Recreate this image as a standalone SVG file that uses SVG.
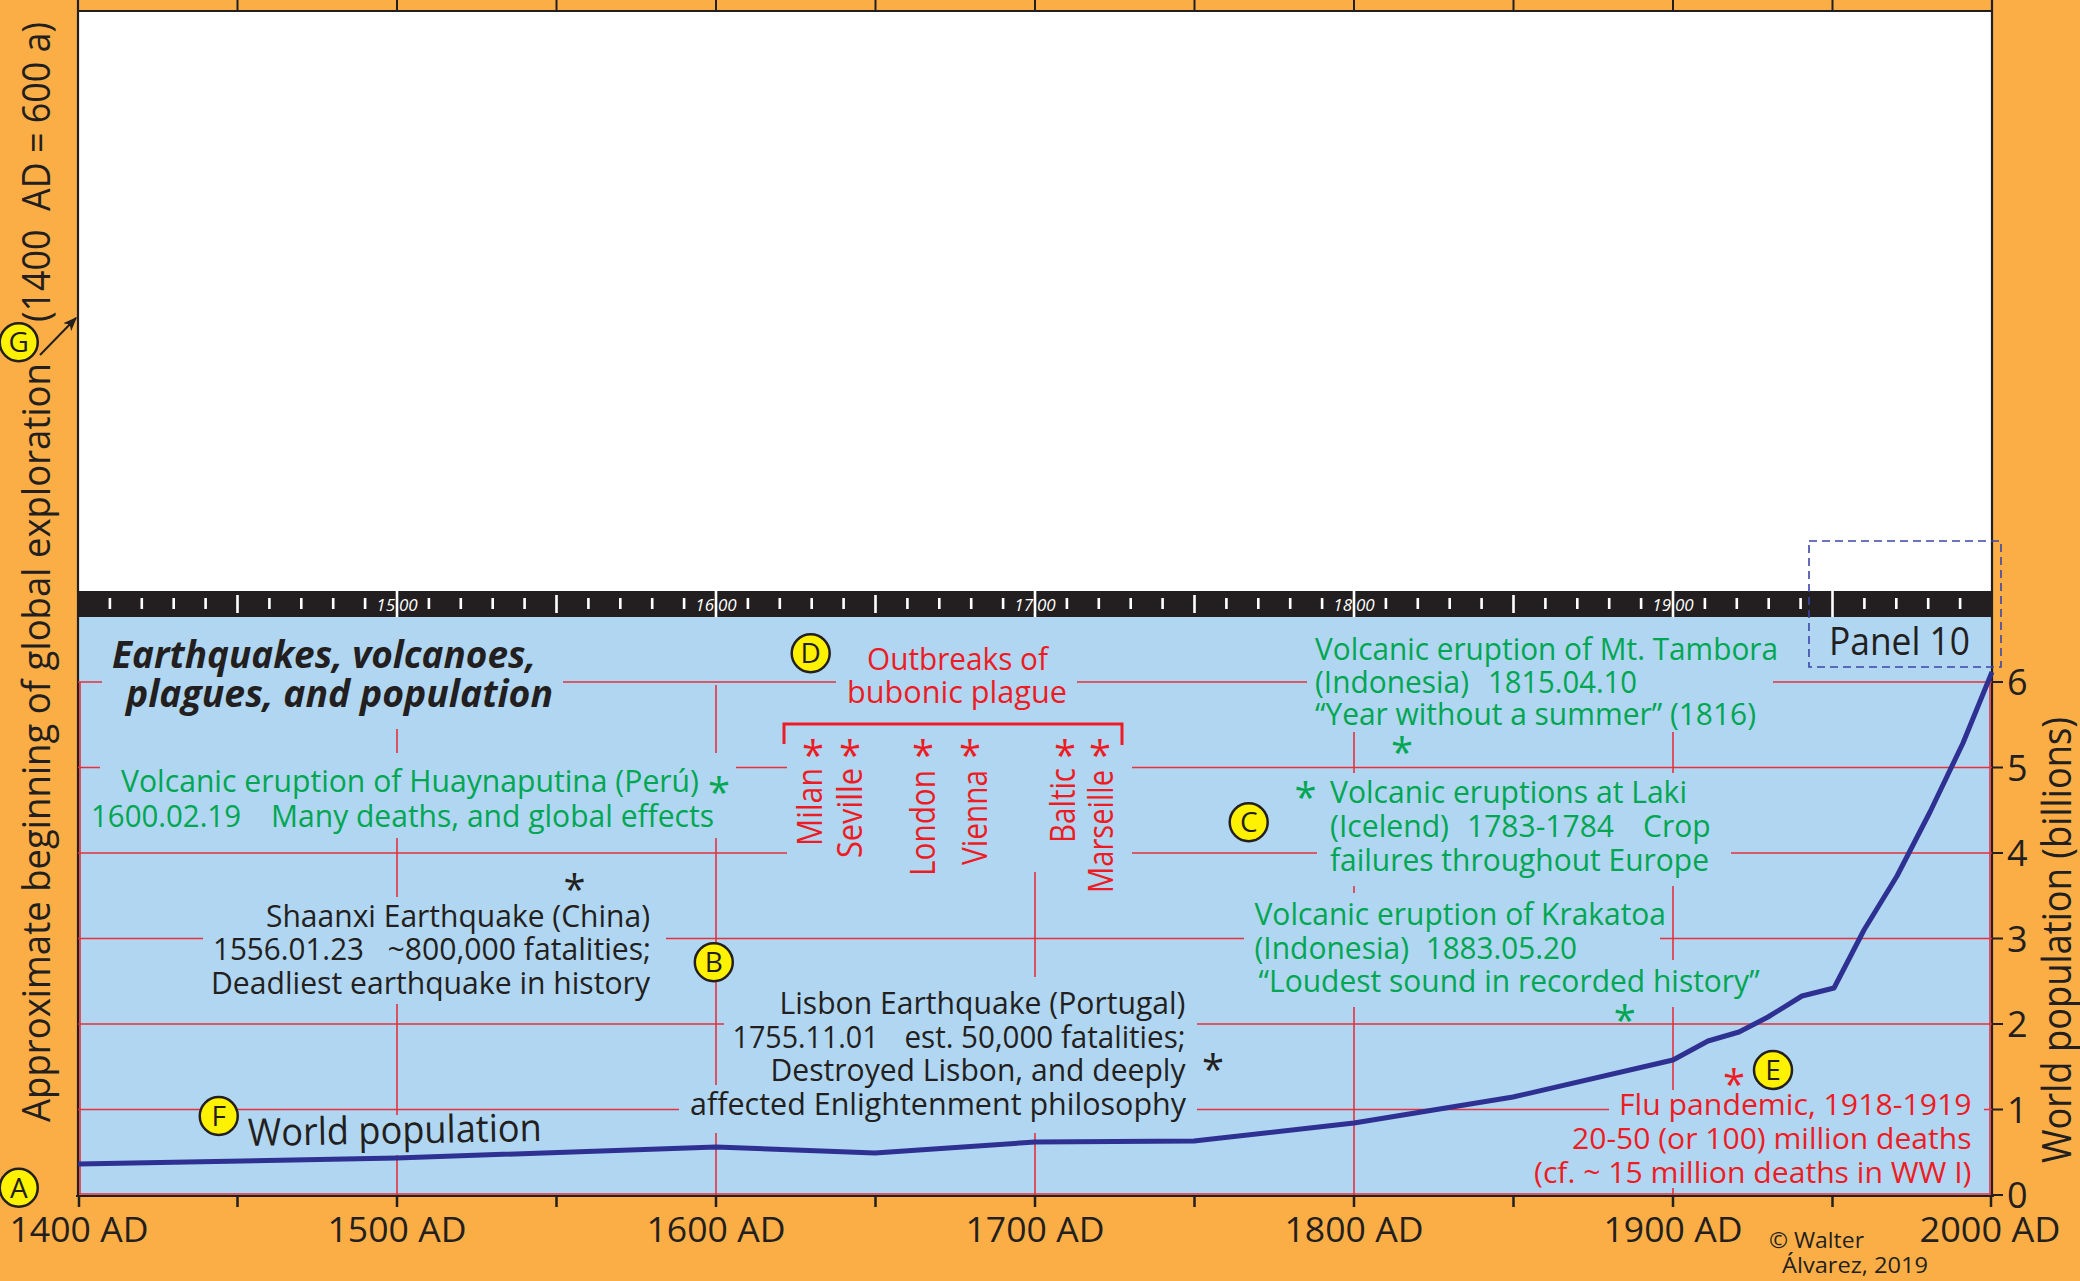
<svg xmlns="http://www.w3.org/2000/svg" width="2080" height="1281" viewBox="0 0 2080 1281">
<style>
text{font-family:"Open Sans","Liberation Sans",sans-serif;}
.k{fill:#231F20}
.g{fill:#00A651}
.r{fill:#ED1C24}
.f30{font-size:31px}
.f29{font-size:30px}
.ast{font-size:40px;text-anchor:middle}
.grid{stroke:#E4323E;stroke-width:1.6;fill:none}
.dk{stroke:#231F20;fill:none}
.circ{fill:#FFF200;stroke:#231F20;stroke-width:2.5}
.cl{font-size:28px;text-anchor:middle;fill:#231F20}
.ax{font-size:35px;text-anchor:middle;fill:#231F20}
.yl{font-size:36px;fill:#231F20}
.tl{font-size:17px;font-style:italic;fill:#FFFFFF}
</style>
<defs>
<marker id="arr" viewBox="0 0 10 10" refX="9" refY="5" markerWidth="14" markerHeight="14" orient="auto" markerUnits="userSpaceOnUse">
<path d="M0,1 L10,5 L0,9 L2.5,5 z" fill="#231F20"/>
</marker>
</defs>

<g id="background">
<rect x="0" y="0" width="2080" height="1281" fill="#FBAE45"/>
<rect x="78" y="11" width="1914" height="580" fill="#FFFFFF"/>
<rect x="78" y="617" width="1914" height="578" fill="#B0D6F1"/>
<rect x="78" y="591" width="1914" height="26" fill="#231F20"/>
</g>

<g id="frame">
<path class="dk" stroke-width="2.2" d="M78 11H1992M78 0V1196M1992 0V1196M76 1196H1994"/>
<path class="dk" stroke-width="2" d="M237.5 0v11M397 0v11M556.5 0v11M716 0v11M875.5 0v11M1035 0v11M1194.5 0v11M1354 0v11M1513.5 0v11M1673 0v11M1832.5 0v11"/>
<path class="dk" stroke-width="2.5" d="M79 1196v11M237.5 1196v11M397 1196v11M556.5 1196v11M716 1196v11M875.5 1196v11M1035 1196v11M1194.5 1196v11M1354 1196v11M1513.5 1196v11M1673 1196v11M1832.5 1196v11M1991 1196v11"/>
<path class="dk" stroke-width="2" d="M1992 682h11M1992 767.5h11M1992 853h11M1992 938.5h11M1992 1024h11M1992 1109.5h11M1992 1195h11"/>
<path stroke="#E4323E" stroke-width="1.6" fill="none" d="M80 682V1194M1990 682V1194M79 1194H1991"/>
</g>

<g id="timeline-bar">
<path stroke="#FFFFFF" stroke-width="2.6" fill="none" d="M109.9 598v11M141.8 598v11M173.7 598v11M205.6 598v11M269.4 598v11M301.3 598v11M333.2 598v11M365.1 598v11M428.9 598v11M460.8 598v11M492.7 598v11M524.6 598v11M588.4 598v11M620.3 598v11M652.2 598v11M684.1 598v11M747.9 598v11M779.8 598v11M811.7 598v11M843.6 598v11M907.4 598v11M939.3 598v11M971.2 598v11M1003.1 598v11M1066.9 598v11M1098.8 598v11M1130.7 598v11M1162.6 598v11M1226.4 598v11M1258.3 598v11M1290.2 598v11M1322.1 598v11M1385.9 598v11M1417.8 598v11M1449.7 598v11M1481.6 598v11M1545.4 598v11M1577.3 598v11M1609.2 598v11M1641.1 598v11M1704.9 598v11M1736.8 598v11M1768.7 598v11M1800.6 598v11M1864.4 598v11M1896.3 598v11M1928.2 598v11M1960.1 598v11"/>
<path stroke="#FFFFFF" stroke-width="2.6" fill="none" d="M237.5 595v18M556.5 595v18M875.5 595v18M1194.5 595v18M1513.5 595v18"/>
<path stroke="#FFFFFF" stroke-width="2.6" fill="none" d="M397 591v26M716 591v26M1035 591v26M1354 591v26M1673 591v26M1832.5 591v26"/>
<text class="tl" x="395" y="611" text-anchor="end">15</text><text class="tl" x="399" y="611">00</text>
<text class="tl" x="714" y="611" text-anchor="end">16</text><text class="tl" x="718" y="611">00</text>
<text class="tl" x="1033" y="611" text-anchor="end">17</text><text class="tl" x="1037" y="611">00</text>
<text class="tl" x="1352" y="611" text-anchor="end">18</text><text class="tl" x="1356" y="611">00</text>
<text class="tl" x="1671" y="611" text-anchor="end">19</text><text class="tl" x="1675" y="611">00</text>
</g>

<g id="gridlines">
<path class="grid" d="M78 682H102M563 682H836M1077 682H1307M1773 682H1992"/>
<path class="grid" d="M78 767.5H100M736 767.5H787M1132 767.5H1992"/>
<path class="grid" d="M78 853H787M1132 853H1317M1731 853H1992"/>
<path class="grid" d="M78 938.5H203M666 938.5H1244M1660 938.5H1992"/>
<path class="grid" d="M78 1024H724M1197 1024H1992"/>
<path class="grid" d="M78 1109.5H679M1197 1109.5H1609M1984 1109.5H1992"/>
<path class="grid" d="M397 729V753M397 838V897M397 1004V1115M397 1155V1195"/>
<path class="grid" d="M716 685V753M716 838V1085M716 1133V1195"/>
<path class="grid" d="M1035 872V977M1035 1133V1195"/>
<path class="grid" d="M1354 732V773M1354 886V893M1354 1007V1195"/>
<path class="grid" d="M1673 732V773M1673 886V960M1673 1007V1090M1673 1188V1195"/>
</g>

<g id="population-curve">
<polyline fill="none" stroke="#2E3192" stroke-width="5" stroke-linejoin="round" points="78,1164 397,1158 716,1147 875,1153 1035,1142 1194,1141 1354,1123 1513,1097 1673,1060 1708,1041 1739,1032 1768,1017 1802,996 1834,988 1864,930 1897,876 1930,812 1963,743 1992,672"/>
</g>

<g id="connectors">
<line x1="40" y1="355" x2="76" y2="318" stroke="#231F20" stroke-width="2" marker-end="url(#arr)"/>
</g>

<g id="left-label">
<text class="k" font-size="39" transform="translate(50 1122) rotate(-90)" textLength="759" lengthAdjust="spacingAndGlyphs">Approximate beginning of global exploration</text>
<text class="k" font-size="39" transform="translate(50 322) rotate(-90)" textLength="300" lengthAdjust="spacingAndGlyphs" xml:space="preserve">(1400  AD = 600 a)</text>
</g>

<g id="right-label">
<text class="k" font-size="40" transform="translate(2071 1163) rotate(-90)" textLength="446" lengthAdjust="spacingAndGlyphs">World population (billions)</text>
<text class="yl" x="2007" y="695">6</text>
<text class="yl" x="2007" y="780.5">5</text>
<text class="yl" x="2007" y="866">4</text>
<text class="yl" x="2007" y="951.5">3</text>
<text class="yl" x="2007" y="1037">2</text>
<text class="yl" x="2007" y="1122.5">1</text>
<text class="yl" x="2007" y="1208">0</text>
</g>

<g id="year-axis">
<text class="ax" x="79" y="1242" textLength="139" lengthAdjust="spacingAndGlyphs">1400 AD</text>
<text class="ax" x="397" y="1242" textLength="139" lengthAdjust="spacingAndGlyphs">1500 AD</text>
<text class="ax" x="716" y="1242" textLength="139" lengthAdjust="spacingAndGlyphs">1600 AD</text>
<text class="ax" x="1035" y="1242" textLength="139" lengthAdjust="spacingAndGlyphs">1700 AD</text>
<text class="ax" x="1354" y="1242" textLength="139" lengthAdjust="spacingAndGlyphs">1800 AD</text>
<text class="ax" x="1673" y="1242" textLength="139" lengthAdjust="spacingAndGlyphs">1900 AD</text>
<text class="ax" x="1990" y="1242" textLength="141" lengthAdjust="spacingAndGlyphs">2000 AD</text>
</g>

<g id="copyright">
<text class="k" font-size="22" x="1769" y="1248" textLength="95" lengthAdjust="spacingAndGlyphs">© Walter</text>
<text class="k" font-size="22" x="1782" y="1273" textLength="146" lengthAdjust="spacingAndGlyphs">Álvarez, 2019</text>
</g>

<g id="title">
<text class="k" font-size="38" font-weight="bold" font-style="italic" x="112" y="668" textLength="424" lengthAdjust="spacingAndGlyphs">Earthquakes, volcanoes,</text>
<text class="k" font-size="38" font-weight="bold" font-style="italic" x="126" y="707" textLength="427" lengthAdjust="spacingAndGlyphs">plagues, and population</text>
</g>

<g id="panel-10">
<rect x="1809" y="541" width="192" height="126" fill="none" stroke="#3B45A8" stroke-width="1.6" stroke-dasharray="8 5"/>
<text class="k" font-size="38" x="1829" y="655" textLength="141" lengthAdjust="spacingAndGlyphs">Panel 10</text>
</g>

<g id="huaynaputina">
<text class="g f30" x="121" y="792" textLength="578" lengthAdjust="spacingAndGlyphs">Volcanic eruption of Huaynaputina (Perú)</text>
<text class="g f30" y="827"><tspan x="91" textLength="150" lengthAdjust="spacingAndGlyphs">1600.02.19</tspan><tspan x="271" textLength="443" lengthAdjust="spacingAndGlyphs">Many deaths, and global effects</tspan></text>
<text class="g ast" x="719" y="807">*</text>
</g>

<g id="shaanxi">
<text class="k ast" x="574.5" y="904">*</text>
<text class="k f30" x="266" y="927" textLength="384" lengthAdjust="spacingAndGlyphs">Shaanxi Earthquake (China)</text>
<text class="k f30" y="960"><tspan x="213" textLength="151" lengthAdjust="spacingAndGlyphs">1556.01.23</tspan><tspan x="387.5" textLength="263.5" lengthAdjust="spacingAndGlyphs">~800,000 fatalities;</tspan></text>
<text class="k f30" x="211" y="994" textLength="439" lengthAdjust="spacingAndGlyphs">Deadliest earthquake in history</text>
</g>

<g id="lisbon">
<text class="k f30" x="779.5" y="1014" textLength="406" lengthAdjust="spacingAndGlyphs">Lisbon Earthquake (Portugal)</text>
<text class="k f30" y="1048"><tspan x="732.6" textLength="146" lengthAdjust="spacingAndGlyphs">1755.11.01</tspan><tspan x="904.5" textLength="281" lengthAdjust="spacingAndGlyphs">est. 50,000 fatalities;</tspan></text>
<text class="k f30" x="770.5" y="1081" textLength="415" lengthAdjust="spacingAndGlyphs">Destroyed Lisbon, and deeply</text>
<text class="k f30" x="690" y="1115" textLength="496" lengthAdjust="spacingAndGlyphs">affected Enlightenment philosophy</text>
<text class="k ast" x="1213" y="1084">*</text>
</g>

<g id="world-population">
<text class="k" font-size="38" x="248" y="1146" transform="rotate(-1 248 1146)" textLength="294" lengthAdjust="spacingAndGlyphs">World population</text>
</g>

<g id="plague">
<text class="r f30" x="867" y="670" textLength="181" lengthAdjust="spacingAndGlyphs">Outbreaks of</text>
<text class="r f30" x="847" y="703" textLength="220" lengthAdjust="spacingAndGlyphs">bubonic plague</text>
<path d="M784 744V724H1122V745" fill="none" stroke="#ED1C24" stroke-width="3"/>
<text class="r ast" x="813" y="770">*</text>
<text class="r ast" x="850" y="770">*</text>
<text class="r ast" x="923" y="770">*</text>
<text class="r ast" x="970" y="770">*</text>
<text class="r ast" x="1065" y="770">*</text>
<text class="r ast" x="1100" y="770">*</text>
<text class="r" font-size="35" transform="translate(822 846) rotate(-90)" textLength="78" lengthAdjust="spacingAndGlyphs">Milan</text>
<text class="r" font-size="35" transform="translate(862 858) rotate(-90)" textLength="90" lengthAdjust="spacingAndGlyphs">Seville</text>
<text class="r" font-size="35" transform="translate(935 876) rotate(-90)" textLength="106" lengthAdjust="spacingAndGlyphs">London</text>
<text class="r" font-size="35" transform="translate(987 865) rotate(-90)" textLength="95" lengthAdjust="spacingAndGlyphs">Vienna</text>
<text class="r" font-size="35" transform="translate(1075 843) rotate(-90)" textLength="75" lengthAdjust="spacingAndGlyphs">Baltic</text>
<text class="r" font-size="35" transform="translate(1113 893) rotate(-90)" textLength="123" lengthAdjust="spacingAndGlyphs">Marseille</text>
</g>

<g id="tambora">
<text class="g f30" x="1315" y="660" textLength="463" lengthAdjust="spacingAndGlyphs">Volcanic eruption of Mt. Tambora</text>
<text class="g f30" y="693"><tspan x="1315" textLength="154" lengthAdjust="spacingAndGlyphs">(Indonesia)</tspan><tspan x="1488" textLength="149" lengthAdjust="spacingAndGlyphs">1815.04.10</tspan></text>
<text class="g f30" x="1315" y="725" textLength="441" lengthAdjust="spacingAndGlyphs">“Year without a summer” (1816)</text>
<text class="g ast" x="1402" y="767">*</text>
</g>

<g id="laki">
<text class="g ast" x="1305.5" y="812">*</text>
<text class="g f30" x="1330" y="803" textLength="357" lengthAdjust="spacingAndGlyphs">Volcanic eruptions at Laki</text>
<text class="g f30" y="837"><tspan x="1330" textLength="119" lengthAdjust="spacingAndGlyphs">(Icelend)</tspan><tspan x="1467" textLength="147" lengthAdjust="spacingAndGlyphs">1783-1784</tspan><tspan x="1643" textLength="67.5" lengthAdjust="spacingAndGlyphs">Crop</tspan></text>
<text class="g f30" x="1330" y="871" textLength="379" lengthAdjust="spacingAndGlyphs">failures throughout Europe</text>
</g>

<g id="krakatoa">
<text class="g f30" x="1254.5" y="925" textLength="411.5" lengthAdjust="spacingAndGlyphs">Volcanic eruption of Krakatoa</text>
<text class="g f30" y="959"><tspan x="1254.5" textLength="154.5" lengthAdjust="spacingAndGlyphs">(Indonesia)</tspan><tspan x="1425.7" textLength="151.3" lengthAdjust="spacingAndGlyphs">1883.05.20</tspan></text>
<text class="g f30" x="1258.6" y="992" textLength="501" lengthAdjust="spacingAndGlyphs">“Loudest sound in recorded history”</text>
<text class="g ast" x="1624.7" y="1035">*</text>
</g>

<g id="flu">
<text class="r ast" x="1734" y="1099">*</text>
<text class="r f29" x="1619" y="1115" textLength="352.5" lengthAdjust="spacingAndGlyphs">Flu pandemic, 1918-1919</text>
<text class="r f29" x="1572" y="1149" textLength="399.5" lengthAdjust="spacingAndGlyphs">20-50 (or 100) million deaths</text>
<text class="r f29" x="1534" y="1183" textLength="437.5" lengthAdjust="spacingAndGlyphs">(cf. ~ 15 million deaths in WW I)</text>
</g>

<g id="marker-A"><circle class="circ" cx="18.75" cy="1187.7" r="19"/><text class="cl" x="18.75" y="1197.7">A</text></g>
<g id="marker-B"><circle class="circ" cx="713.8" cy="962.3" r="19"/><text class="cl" x="713.8" y="972.3">B</text></g>
<g id="marker-C"><circle class="circ" cx="1248.7" cy="822.3" r="19"/><text class="cl" x="1248.7" y="832.3">C</text></g>
<g id="marker-D"><circle class="circ" cx="810.7" cy="653.3" r="19"/><text class="cl" x="810.7" y="663.3">D</text></g>
<g id="marker-E"><circle class="circ" cx="1773" cy="1070" r="19"/><text class="cl" x="1773" y="1080">E</text></g>
<g id="marker-F"><circle class="circ" cx="218.75" cy="1116" r="19"/><text class="cl" x="218.75" y="1126">F</text></g>
<g id="marker-G"><circle class="circ" cx="18.75" cy="342.3" r="19"/><text class="cl" x="18.75" y="352.3">G</text></g>
</svg>
